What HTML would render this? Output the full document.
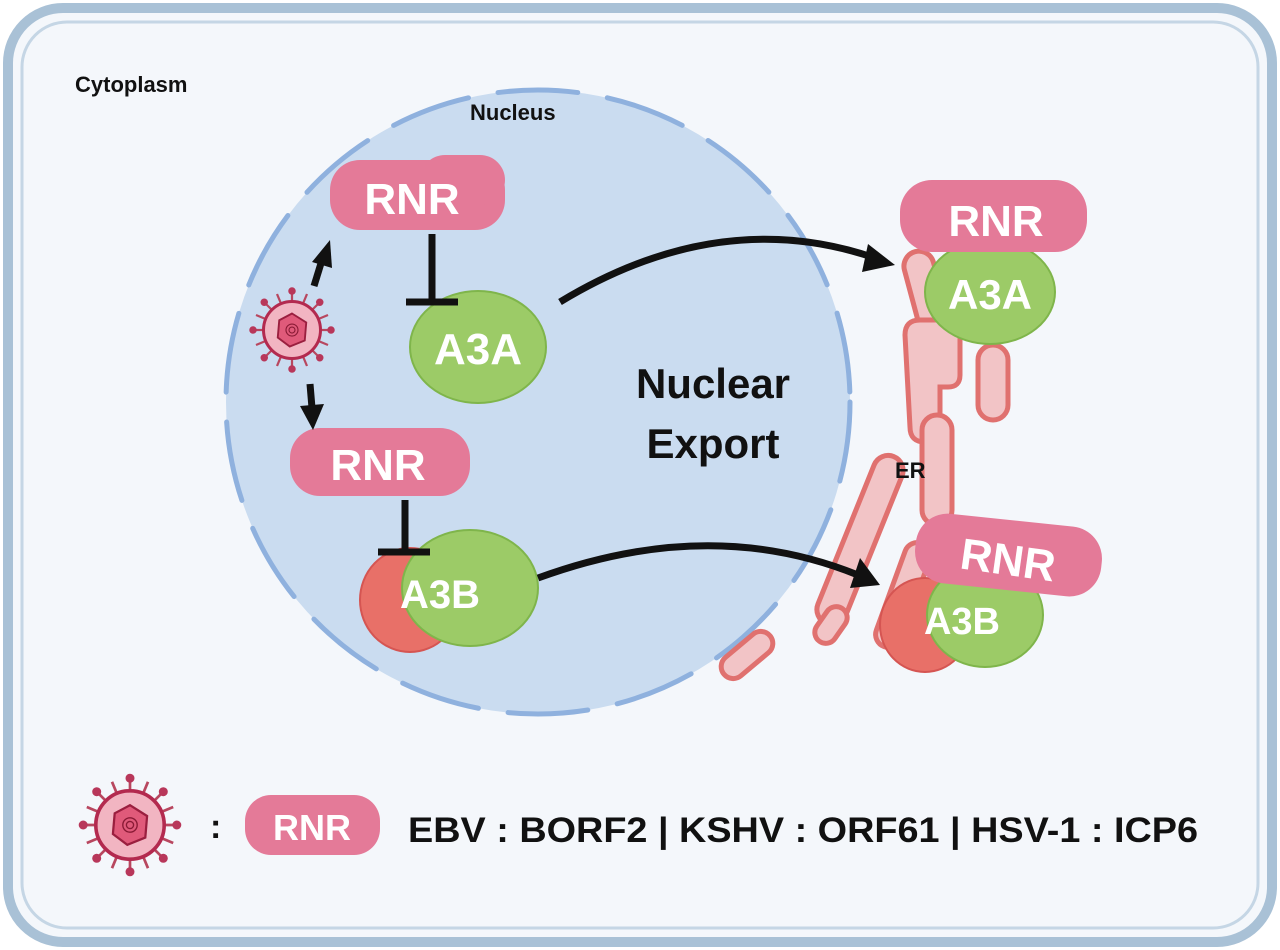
<!DOCTYPE html>
<html><head><style>body{margin:0;background:#fff}svg{display:block}text{font-family:"Liberation Sans",Arial,sans-serif;font-weight:bold}</style></head><body>
<svg width="1280" height="950" viewBox="0 0 1280 950">
<defs>
<g id="virus">
<g stroke="#b8475f" stroke-width="3">
<line x1="0" y1="-52" x2="0" y2="52"/><line x1="-52" y1="0" x2="52" y2="0"/>
<line x1="-37" y1="-37" x2="37" y2="37"/><line x1="-37" y1="37" x2="37" y2="-37"/>
<line x1="-20" y1="-48" x2="20" y2="48"/><line x1="-48" y1="-20" x2="48" y2="20"/>
<line x1="-20" y1="48" x2="20" y2="-48"/><line x1="-48" y1="20" x2="48" y2="-20"/>
</g>
<g fill="#b8375a"><circle cx="0" cy="-52" r="5"/><circle cx="0" cy="52" r="5"/><circle cx="-52" cy="0" r="5"/><circle cx="52" cy="0" r="5"/><circle cx="37" cy="37" r="5"/><circle cx="-37" cy="-37" r="5"/><circle cx="37" cy="-37" r="5"/><circle cx="-37" cy="37" r="5"/></g>
<circle r="38" fill="#f2b5c2" stroke="#b32a4f" stroke-width="4"/>
<polygon points="0,-22 19,-10 17,14 -3,22 -19,10 -17,-13" fill="#e05a7a" stroke="#9a1f3f" stroke-width="2.5"/>
<circle r="8" fill="none" stroke="#8a1a35" stroke-width="1.5"/><circle r="4" fill="none" stroke="#8a1a35" stroke-width="1.5"/>
</g>
</defs>
<rect width="1280" height="950" fill="#fff"/>
<rect x="8" y="8" width="1264" height="934" rx="55" fill="#f4f7fb" stroke="#a9c1d6" stroke-width="10"/>
<rect x="22" y="22" width="1236" height="906" rx="45" fill="none" stroke="#c5d6e5" stroke-width="3"/>
<text x="75" y="92" font-size="22" fill="#111">Cytoplasm</text>
<circle cx="538" cy="402" r="312" fill="#cadcf0"/>
<circle cx="538" cy="402" r="312" fill="none" stroke="#8fb1de" stroke-width="5" stroke-linecap="round" stroke-dasharray="80 30"/>
<text x="470" y="120" font-size="22" fill="#111">Nucleus</text>
<text x="713" y="398" font-size="42" fill="#111" text-anchor="middle">Nuclear</text>
<text x="713" y="458" font-size="42" fill="#111" text-anchor="middle">Export</text>
<!-- ER -->
<g fill="#f2c4c6" stroke="#e0716f" stroke-width="5">
<rect x="913" y="250" width="30" height="100" rx="15" transform="rotate(-15 928 300)"/>
<path d="M905 335 q0-15 15-15 h25 q15 0 15 15 v40 q0 12-12 12 h-8 v40 q0 15-15 15 q-15 0-15-15z"/>
<rect x="978" y="345" width="30" height="75" rx="15"/>
<rect x="922" y="415" width="30" height="110" rx="15"/>
<rect x="845" y="450" width="30" height="180" rx="15" transform="rotate(22 860 540)"/>
<rect x="890" y="540" width="26" height="110" rx="13" transform="rotate(20 903 595)"/>
<rect x="820" y="605" width="22" height="40" rx="11" transform="rotate(35 831 625)"/>
<rect x="735" y="625" width="24" height="60" rx="12" transform="rotate(50 747 655)"/>
</g>
<text x="895" y="478" font-size="22" fill="#111">ER</text>
<!-- nucleus proteins -->
<rect x="330" y="160" width="175" height="70" rx="30" fill="#e47a98"/>
<rect x="420" y="155" width="85" height="50" rx="25" fill="#e47a98"/>
<text x="412" y="214" font-size="44" fill="#fff" text-anchor="middle">RNR</text>
<ellipse cx="478" cy="347" rx="68" ry="56" fill="#9ccb67" stroke="#7fb54b" stroke-width="2"/>
<text x="478" y="364" font-size="44" fill="#fff" text-anchor="middle">A3A</text>
<rect x="290" y="428" width="180" height="68" rx="30" fill="#e47a98"/>
<text x="378" y="480" font-size="44" fill="#fff" text-anchor="middle">RNR</text>
<ellipse cx="410" cy="600" rx="50" ry="52" fill="#e87068" stroke="#d55552" stroke-width="2"/>
<ellipse cx="470" cy="588" rx="68" ry="58" fill="#9ccb67" stroke="#7fb54b" stroke-width="2"/>
<text x="440" y="608" font-size="40" fill="#fff" text-anchor="middle">A3B</text>
<g transform="translate(292 330) scale(0.75)"><use href="#virus"/></g>
<!-- arrows -->
<g stroke="#111" stroke-width="7" fill="none">
<line x1="314" y1="286" x2="322" y2="260"/>
<line x1="310" y1="384" x2="312" y2="408"/>
<line x1="432" y1="234" x2="432" y2="300"/><line x1="406" y1="302" x2="458" y2="302"/>
<line x1="405" y1="500" x2="405" y2="552"/><line x1="378" y1="552" x2="430" y2="552"/>
<path d="M560 302 Q720 205 875 258"/>
<path d="M538 578 Q710 515 858 575"/>
</g>
<g fill="#111">
<polygon points="330,240 312,262 332,268"/>
<polygon points="313,430 300,406 324,404"/>
<polygon points="895,265 868,244 862,272"/>
<polygon points="880,585 860,558 850,588"/>
</g>
<!-- right complexes -->
<ellipse cx="990" cy="292" rx="65" ry="52" fill="#9ccb67" stroke="#7fb54b" stroke-width="2"/>
<text x="990" y="309" font-size="42" fill="#fff" text-anchor="middle">A3A</text>
<rect x="900" y="180" width="187" height="72" rx="32" fill="#e47a98"/>
<text x="996" y="236" font-size="44" fill="#fff" text-anchor="middle">RNR</text>
<ellipse cx="925" cy="625" rx="45" ry="47" fill="#e87068" stroke="#d55552" stroke-width="2"/>
<ellipse cx="985" cy="615" rx="58" ry="52" fill="#9ccb67" stroke="#7fb54b" stroke-width="2"/>
<text x="962" y="634" font-size="38" fill="#fff" text-anchor="middle">A3B</text>
<rect x="915" y="520" width="187" height="70" rx="32" fill="#e47a98" transform="rotate(6 1008 555)"/>
<text x="1008" y="575" font-size="44" fill="#fff" text-anchor="middle" transform="rotate(8 1008 560)">RNR</text>
<!-- legend -->
<g transform="translate(130 825) scale(0.9)"><use href="#virus"/></g>
<text x="210" y="838" font-size="34" fill="#111">:</text>
<rect x="245" y="795" width="135" height="60" rx="26" fill="#e47a98"/>
<text x="312" y="840" font-size="36" fill="#fff" text-anchor="middle">RNR</text>
<text x="408" y="842" font-size="35" fill="#111" textLength="790" lengthAdjust="spacingAndGlyphs">EBV : BORF2 | KSHV : ORF61 | HSV-1 : ICP6</text>
</svg>
</body></html>
